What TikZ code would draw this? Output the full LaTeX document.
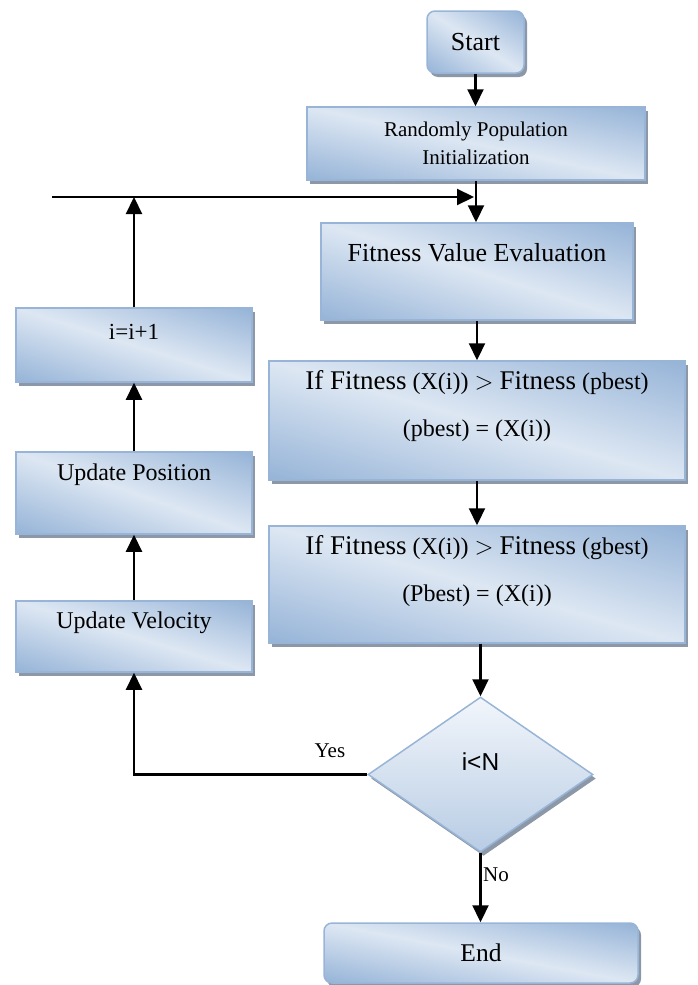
\documentclass[tikz,border=0pt]{standalone}
\usepackage{fontspec}
\setmainfont{Liberation Serif}
\newfontfamily\arialfont{Liberation Sans}
\usetikzlibrary{arrows.meta,shapes.geometric,shadows}

\definecolor{boxedge}{RGB}{152,181,216}
\definecolor{boxshadow}{RGB}{140,152,168}
\definecolor{diatop}{RGB}{242,246,251}
\definecolor{diabot}{RGB}{184,204,228}

% light band from top left to bottom right, dark corners
\pgfdeclarefunctionalshading{boxshade}{\pgfpoint{0bp}{0bp}}{\pgfpoint{100bp}{100bp}}{}{
  add 100 sub abs 50 div
  dup dup
  -0.283 mul 0.867 add 3 1 roll
  -0.204 mul 0.906 add exch
  -0.110 mul 0.953 add
}

\newcommand{\fs}[1]{\fontsize{#1}{#1}\selectfont}

\tikzset{
  flowbox/.style={draw=boxedge, line width=1.5pt, inner sep=0pt,
    shading=boxshade,
    drop shadow={shadow xshift=3pt, shadow yshift=-4pt, fill=boxshadow, opacity=1}},
  termbox/.style={flowbox, rounded corners=8pt},
  decbox/.style={diamond, draw=boxedge, line width=1.5pt, inner sep=0pt,
    top color=diatop, bottom color=diabot,
    drop shadow={shadow xshift=3pt, shadow yshift=-4pt, fill=boxshadow, opacity=1}},
  flowarrow/.style={line width=2.2pt, -{Triangle[length=17pt,width=16pt]}},
}

\begin{document}
\begin{tikzpicture}[x=1pt, y=-1pt]
\useasboundingbox (0,0) rectangle (697,985);

% right column
\node[termbox, minimum width=97pt, minimum height=62pt, font=\fs{26}] (start) at (475.5,42) {Start};
\node[flowbox, minimum width=338pt, minimum height=73pt, align=center, font={\fontsize{21}{28}\selectfont}] (init) at (476,143.5) {Randomly Population\\Initialization};
\node[flowbox, minimum width=312pt, minimum height=97pt,
  label={[yshift=18.5pt, font=\fs{26}]center:Fitness Value Evaluation}] (fve) at (477,271.5) {};
\node[flowbox, minimum width=416pt, minimum height=119pt,
  label={[yshift=14pt, align=center, font={\fontsize{24}{47}\selectfont}]center:{{\fontsize{27}{47}\selectfont If Fitness} (X(i)) $>$ {\fontsize{27}{47}\selectfont Fitness} (pbest)\\(pbest) = (X(i))}}] (pbest) at (477,420.5) {};
\node[flowbox, minimum width=416pt, minimum height=117pt,
  label={[yshift=13pt, align=center, font={\fontsize{24}{47}\selectfont}]center:{{\fontsize{27}{47}\selectfont If Fitness} (X(i)) $>$ {\fontsize{27}{47}\selectfont Fitness} (gbest)\\(Pbest) = (X(i))}}] (gbest) at (477,584.5) {};
\node[decbox, minimum width=225pt, minimum height=155pt,
  label={[yshift=12.5pt, font=\arialfont\fs{24.5}]center:i<N}] (dec) at (480.5,774.5) {};
\node[termbox, minimum width=314pt, minimum height=60pt, font=\fs{25.5}] (end) at (481,953) {End};

% left column
\node[flowbox, minimum width=236pt, minimum height=74pt,
  label={[yshift=13pt, font=\fs{23}]center:i=i+1}] (inc) at (134,345) {};
\node[flowbox, minimum width=236pt, minimum height=82pt,
  label={[yshift=18pt, font=\fs{24}]center:Update Position}] (pos) at (134,493) {};
\node[flowbox, minimum width=236pt, minimum height=71pt,
  label={[yshift=13.5pt, font=\fs{24}]center:Update Velocity}] (vel) at (134,636.5) {};

\coordinate (loopL) at (52,197);
\coordinate (loopR) at (474,197);

\draw[flowarrow] (start) -- (start |- init.north);
\draw[flowarrow] (init.south) -- (init.south |- fve.north);
\draw[flowarrow] (fve) -- (fve |- pbest.north);
\draw[flowarrow] (pbest) -- (pbest |- gbest.north);
\draw[flowarrow] (dec.north |- gbest.south) -- (dec.north);
\draw[flowarrow] (dec.south) -- node[pos=0.32, right, inner sep=1.5pt, font=\fs{21}]{No} (dec.south |- end.north);

\draw[flowarrow] (dec.west) -| node[pos=0.08, above=16pt, inner sep=0pt, font=\fs{21}]{Yes} (vel.south);
\draw[flowarrow] (vel) -- (pos);
\draw[flowarrow] (pos) -- (inc);
\draw[flowarrow] (inc) -- (inc |- loopL);
\draw[flowarrow] (loopL) -- (loopR);

\end{tikzpicture}
\end{document}
